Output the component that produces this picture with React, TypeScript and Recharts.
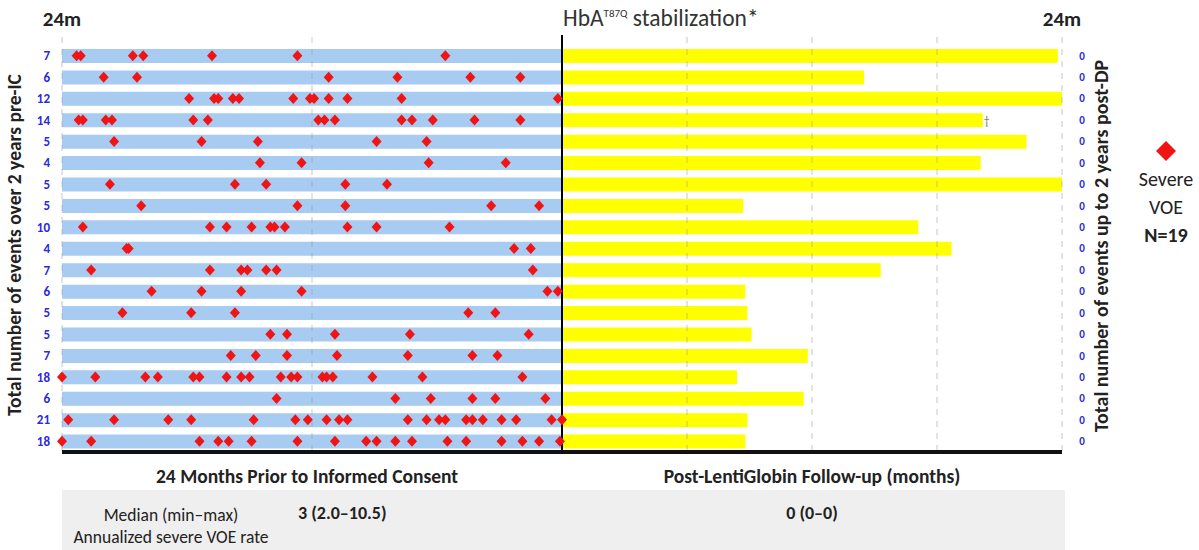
import { ComposedChart, Bar, Scatter, XAxis, YAxis, ReferenceLine, LabelList } from 'recharts';

const FONT = "Carlito, 'Liberation Sans Narrow', Lato, sans-serif";

// one entry per patient, top to bottom
const patients = ['P1', 'P2', 'P3', 'P4', 'P5', 'P6', 'P7', 'P8', 'P9', 'P10', 'P11', 'P12', 'P13', 'P14', 'P15', 'P16', 'P17', 'P18', 'P19'];
const preCounts = [7, 6, 12, 14, 5, 4, 5, 5, 10, 4, 7, 6, 5, 5, 7, 18, 6, 21, 18];
const postCounts = [0, 0, 0, 0, 0, 0, 0, 0, 0, 0, 0, 0, 0, 0, 0, 0, 0, 0, 0];
const preWindow = [-24, -24, -24, -24, -24, -24, -24, -24, -24, -24, -24, -24, -24, -24, -24, -24, -24, -24, -24];
const followUp = [23.8, 14.5, 24, 20.2, 22.3, 20.1, 24, 8.7, 17.1, 18.7, 15.3, 8.8, 8.9, 9.1, 11.8, 8.4, 11.6, 8.9, 8.8];
const followUpNotes = ['', '', '', '†', '', '', '', '', '', '', '', '', '', '', '', '', '', '', ''];

// severe VOE times, months before informed consent
const voeMonths: number[][] = [
  [-23.3, -23.1, -20.6, -20.1, -16.8, -12.7, -5.6],
  [-22.0, -20.4, -11.2, -7.9, -4.4, -2.0],
  [-17.9, -16.7, -16.5, -15.8, -15.5, -12.9, -12.1, -11.9, -11.2, -10.3, -7.7, -0.2],
  [-23.2, -23.0, -21.9, -21.6, -17.7, -17.0, -11.7, -11.4, -10.9, -7.7, -7.2, -6.2, -4.2, -2.0],
  [-21.5, -17.3, -14.6, -8.9, -6.5],
  [-14.5, -12.5, -6.4, -2.7],
  [-21.7, -15.7, -14.2, -10.4, -8.4],
  [-20.2, -12.7, -10.4, -3.4, -1.1],
  [-23.0, -16.9, -16.1, -14.9, -14.0, -13.8, -13.3, -10.3, -8.9, -5.4],
  [-20.9, -20.8, -2.3, -1.5],
  [-22.6, -16.9, -15.4, -15.1, -14.2, -13.7, -1.4],
  [-19.7, -17.3, -15.4, -12.5, -0.7, -0.2],
  [-21.1, -17.8, -15.7, -4.5, -3.2],
  [-14.0, -13.2, -10.9, -7.3, -1.6],
  [-15.9, -14.7, -13.2, -10.8, -7.4, -4.3, -3.1],
  [-24.0, -22.4, -20.0, -19.4, -17.7, -17.4, -16.1, -15.4, -15.0, -13.5, -13.0, -12.7, -11.5, -11.3, -11.0, -9.1, -6.7, -1.9],
  [-13.7, -8.0, -6.3, -4.3, -3.2, -0.8],
  [-23.7, -21.5, -18.9, -17.8, -14.8, -12.8, -12.2, -11.3, -10.7, -10.3, -7.4, -6.5, -5.9, -5.6, -4.6, -4.3, -3.8, -2.9, -2.2, -0.5, 0],
  [-24.0, -22.6, -17.4, -16.5, -16.0, -14.9, -12.7, -10.9, -9.4, -8.9, -8.0, -7.2, -5.5, -4.6, -2.9, -1.9, -1.1, -0.1],
];

const gridMonths = [-24, -12, 6, 12, 18, 24];

const rows = patients.map((p, i) => ({ row: p, pre: preWindow[i], post: followUp[i], note: followUpNotes[i] }));
const events = voeMonths.flatMap((ts, i) => ts.map(t => ({ row: patients[i], t })));

const Diamond = (props: any) => {
  const { cx, cy } = props;
  if (cx == null || cy == null) return null;
  return <polygon points={`${cx},${cy - 5.5} ${cx + 5},${cy} ${cx},${cy + 5.5} ${cx - 5},${cy}`} fill="#f01414" />;
};

// reference lines poke a bit above the plot, like the original
const tallLine = (extra: number) => (props: any) => {
  const { x1, y1, x2, y2, stroke, strokeWidth, strokeDasharray, strokeOpacity } = props;
  return <line x1={x1} y1={Math.min(y1, y2) - extra} x2={x2} y2={Math.max(y1, y2)} stroke={stroke} strokeWidth={strokeWidth} strokeDasharray={strokeDasharray} strokeOpacity={strokeOpacity} />;
};

const abs = (left: number, top: number, extra: React.CSSProperties = {}): React.CSSProperties => ({ position: 'absolute', left, top, ...extra });

export default function App() {
  return (
    <div style={{ position: 'absolute', left: 0, top: 0, width: 1199, height: 550, background: '#fff', fontFamily: FONT, color: '#222' }}>
      <ComposedChart layout="vertical" width={1199} height={550} data={rows} margin={{ top: 45, right: 97, bottom: 96, left: 22 }}>
        <XAxis type="number" domain={[-24, 24]} ticks={[-24, -12, 0, 6, 12, 18, 24]} tick={false} tickLine={false} height={2} axisLine={{ stroke: '#111', strokeWidth: 4 }} />
        <YAxis yAxisId="left" type="category" dataKey="row" allowDuplicatedCategory={false} width={40} axisLine={false} tickLine={false} tickMargin={6}
          tick={{ fill: '#2a2ad8', fontSize: 13, fontWeight: 700, fontFamily: FONT }}
          tickFormatter={(v: string) => String(preCounts[patients.indexOf(v)])} />
        <YAxis yAxisId="right" orientation="right" type="category" dataKey="row" allowDuplicatedCategory={false} width={40} axisLine={false} tickLine={false} tickMargin={14}
          tick={{ fill: '#2a2ad8', fontSize: 11, fontWeight: 700, fontFamily: FONT, textAnchor: 'middle' }}
          tickFormatter={(v: string) => String(postCounts[patients.indexOf(v)])} />
        <Bar yAxisId="left" dataKey="pre" fill="#a7cbf1" barSize={14} isAnimationActive={false} />
        <Bar yAxisId="right" dataKey="post" fill="#ffff00" barSize={14} isAnimationActive={false}>
          <LabelList dataKey="note" position="right" offset={1} fill="#777" fontSize={12} />
        </Bar>
        {gridMonths.map(m => (
          <ReferenceLine key={m} yAxisId="left" x={m} stroke="#9a9a9a" strokeOpacity={0.55} strokeWidth={1} strokeDasharray="6 6" shape={tallLine(8)} />
        ))}
        <ReferenceLine yAxisId="left" x={0} stroke="#000" strokeWidth={2} shape={tallLine(10)} />
        <Scatter yAxisId="left" data={events} dataKey="t" shape={Diamond} isAnimationActive={false} />
      </ComposedChart>

      <div style={abs(12, 6, { width: 100, textAlign: 'center', fontSize: 21, fontWeight: 700 })}>24m</div>
      <div style={abs(1012, 6, { width: 100, textAlign: 'center', fontSize: 21, fontWeight: 700 })}>24m</div>
      <div style={abs(563, 4, { fontSize: 23.5, color: '#333' })}>HbA<sup style={{ fontSize: 11 }}>T87Q</sup> stabilization*</div>

      <div style={abs(14, 245, { fontSize: 19.5, fontWeight: 700, whiteSpace: 'nowrap', transform: 'translate(-50%, -50%) rotate(-90deg)' })}>
        Total number of events over 2 years pre-IC
      </div>
      <div style={abs(1101, 246, { fontSize: 20, fontWeight: 700, whiteSpace: 'nowrap', transform: 'translate(-50%, -50%) rotate(-90deg)' })}>
        Total number of events up to 2 years post-DP
      </div>

      <svg style={abs(1155, 140)} width={22} height={22}>
        <polygon points="11,1 21,11 11,21 1,11" fill="#f01414" />
      </svg>
      <div style={abs(1116, 165, { width: 100, textAlign: 'center', fontSize: 20, lineHeight: '28px' })}>
        Severe<br />VOE<br /><b>N=19</b>
      </div>

      <div style={abs(62, 464, { width: 490, textAlign: 'center', fontSize: 19.5, fontWeight: 700 })}>24 Months Prior to Informed Consent</div>
      <div style={abs(563, 464, { width: 498, textAlign: 'center', fontSize: 19.5, fontWeight: 700 })}>Post-LentiGlobin Follow-up (months)</div>
      <div style={abs(62, 490, { width: 1003, height: 60, background: '#efefef' })} />
      <div style={abs(52, 504, { width: 238, textAlign: 'center', fontSize: 17.5, lineHeight: '22px' })}>
        Median (min–max)<br />Annualized severe VOE rate
      </div>
      <div style={abs(298, 502, { fontSize: 18, fontWeight: 700 })}>3 (2.0–10.5)</div>
      <div style={abs(563, 502, { width: 498, textAlign: 'center', fontSize: 18, fontWeight: 700 })}>0 (0–0)</div>
    </div>
  );
}
